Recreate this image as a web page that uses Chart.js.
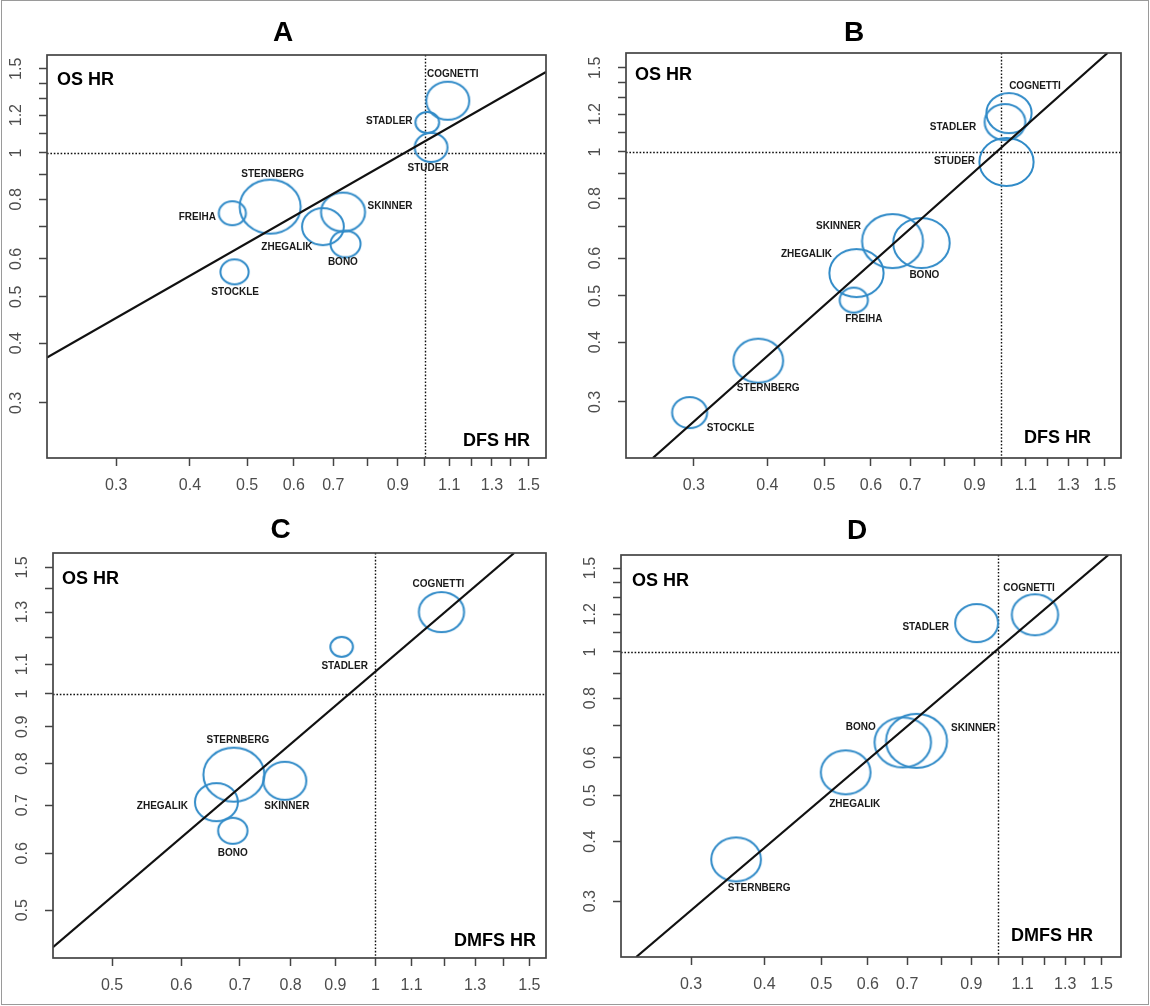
<!DOCTYPE html>
<html>
<head>
<meta charset="utf-8">
<title>OS HR vs surrogate HR</title>
<script src="https://cdn.jsdelivr.net/npm/chart.js@4.4.1/dist/chart.umd.min.js"></script>
<style>
  html, body { margin: 0; padding: 0; background: #fff; }
  #fig { position: relative; width: 1150px; height: 1006px; overflow: hidden; }
  #fig canvas { position: absolute; }
  #frame { position: absolute; left: 1px; top: 0; width: 1148px; height: 1005px;
           border: 1px solid #9a9a9a; box-sizing: border-box; pointer-events: none; }
</style>
</head>
<body>
<div id="fig">
  <canvas id="panelA" width="575" height="503" style="left:0;top:0"></canvas>
  <canvas id="panelB" width="575" height="503" style="left:575px;top:0"></canvas>
  <canvas id="panelC" width="575" height="503" style="left:0;top:503px"></canvas>
  <canvas id="panelD" width="575" height="503" style="left:575px;top:503px"></canvas>
  <div id="frame"></div>
</div>
<script>
/* global Chart */

// --- data -----------------------------------------------------------------

// A: DFS HR vs OS HR
const studiesA = ["COGNETTI", "STADLER", "STUDER", "STERNBERG", "FREIHA", "SKINNER", "ZHEGALIK", "BONO", "STOCKLE"];
const dfsHrA = [1.094, 1.010, 1.025, 0.547, 0.472, 0.727, 0.672, 0.734, 0.476];
const osHrA = [1.286, 1.158, 1.027, 0.772, 0.748, 0.752, 0.701, 0.645, 0.564];
const weightA = [19, 10.5, 14.5, 27, 12, 19.5, 18.5, 13.3, 12.5];
const fitDfsA = [0.229, 1.605];
const fitOsA = [0.373, 1.477];

// B: DFS HR vs OS HR
const studiesB = ["COGNETTI", "STADLER", "STUDER", "SKINNER", "BONO", "ZHEGALIK", "FREIHA", "STERNBERG", "STOCKLE"];
const dfsHrB = [1.03, 1.014, 1.02, 0.653, 0.731, 0.567, 0.561, 0.386, 0.295];
const osHrB = [1.206, 1.155, 0.953, 0.651, 0.645, 0.558, 0.49, 0.366, 0.285];
const weightB = [20, 18, 24, 27, 25, 24, 12.5, 22, 15.5];
const fitDfsB = [0.2555, 1.515];
const fitOsB = [0.229, 1.611];

// C: DMFS HR vs OS HR
const studiesC = ["COGNETTI", "STADLER", "STERNBERG", "SKINNER", "ZHEGALIK", "BONO"];
const dmfsHrC = [1.19, 0.915, 0.689, 0.788, 0.658, 0.687];
const osHrC = [1.30, 1.163, 0.772, 0.757, 0.707, 0.645];
const weightC = [20, 10, 27, 19, 19, 13];
const fitDmfsC = [0.428, 1.441];
const fitOsC = [0.444, 1.571];

// D: DMFS HR vs OS HR
const studiesD = ["COGNETTI", "STADLER", "BONO", "SKINNER", "ZHEGALIK", "STERNBERG"];
const dmfsHrD = [1.155, 0.919, 0.688, 0.726, 0.55, 0.358];
const osHrD = [1.197, 1.15, 0.646, 0.651, 0.559, 0.367];
const weightD = [20.5, 19, 25, 27, 22, 22];
const fitDmfsD = [0.242, 1.54];
const fitOsD = [0.229, 1.598];

// axis ticks and the ones that carry a label
const ticksWide = [0.3, 0.4, 0.5, 0.6, 0.7, 0.8, 0.9, 1, 1.1, 1.2, 1.3, 1.4, 1.5];
const xLabelsWide = [0.3, 0.4, 0.5, 0.6, 0.7, 0.9, 1.1, 1.3, 1.5];
const yLabelsWide = [0.3, 0.4, 0.5, 0.6, 0.8, 1, 1.2, 1.5];
const ticksNarrow = [0.5, 0.6, 0.7, 0.8, 0.9, 1, 1.1, 1.2, 1.3, 1.4, 1.5];
const labelsNarrow = [0.5, 0.6, 0.7, 0.8, 0.9, 1, 1.1, 1.3, 1.5];
const refHr = 1;

// --- layout / style -------------------------------------------------------

const FONT = "'Liberation Sans', Arial, Helvetica, sans-serif";
const BUBBLE = "#318bc8";
const AXIS = "#444";
const STRETCH = 1.13; // the printed circles are a bit wider than tall
const W = 575, H = 503;

const panels = [
  {
    id: "panelA", title: "A", titleAt: [283, 33], xName: "DFS HR",
    names: studiesA, xs: dfsHrA, ys: osHrA, sizes: weightA, fitX: fitDfsA, fitY: fitOsA,
    box: { left: 47, top: 55, right: 561, bottom: 458 },
    xRange: [0.229, 1.605], yRange: [0.230, 1.603],
    ticks: ticksWide, xLabels: xLabelsWide, yLabels: yLabelsWide,
    yNameAt: [10, 25], xNameAt: [-16, -17],
    nudge: [[5, -26], [-38, -1.5], [-3, 21], [2.5, -32], [-35, 4], [47, -5.5], [-36, 20.6], [-2.6, 18.7], [0.6, 20.7]]
  },
  {
    id: "panelB", title: "B", titleAt: [279, 33], xName: "DFS HR",
    names: studiesB, xs: dfsHrB, ys: osHrB, sizes: weightB, fitX: fitDfsB, fitY: fitOsB,
    box: { left: 51, top: 53, right: 564, bottom: 458 },
    xRange: [0.230, 1.597], yRange: [0.229, 1.611],
    ticks: ticksWide, xLabels: xLabelsWide, yLabels: yLabelsWide,
    yNameAt: [9, 22], xNameAt: [-30, -20],
    nudge: [[26, -27], [-52, 5], [-52, -1], [-54, -15], [3, 32], [-50, -19], [10, 19], [10, 28], [41, 16]]
  },
  {
    id: "panelC", title: "C", titleAt: [280.5, 27], xName: "DMFS HR",
    names: studiesC, xs: dmfsHrC, ys: osHrC, sizes: weightC, fitX: fitDmfsC, fitY: fitOsC,
    box: { left: 53, top: 50, right: 562, bottom: 455 },
    xRange: [0.428, 1.567], yRange: [0.429, 1.571],
    ticks: ticksNarrow, xLabels: labelsNarrow, yLabels: labelsNarrow,
    yNameAt: [9, 26], xNameAt: [-10, -17],
    nudge: [[-3, -28], [3, 19], [4, -34], [2, 25], [-54, 4], [0, 22]]
  },
  {
    id: "panelD", title: "D", titleAt: [282, 28], xName: "DMFS HR",
    names: studiesD, xs: dmfsHrD, ys: osHrD, sizes: weightD, fitX: fitDmfsD, fitY: fitOsD,
    box: { left: 46, top: 52, right: 563, bottom: 454 },
    xRange: [0.228, 1.618], yRange: [0.229, 1.598],
    ticks: ticksWide, xLabels: xLabelsWide, yLabels: yLabelsWide,
    yNameAt: [11, 26], xNameAt: [-28, -21],
    nudge: [[-6, -27], [-51, 4], [-42, -15], [57, -13], [9, 32], [23, 29]]
  }
];

// hollow ellipse used as point style for each bubble
const markCache = new Map();
function ellipseMark(r) {
  if (markCache.has(r)) return markCache.get(r);
  const lw = 2;
  const c = document.createElement("canvas");
  c.width = Math.ceil(r * STRETCH * 2 + lw * 2 + 2);
  c.height = Math.ceil(r * 2 + lw * 2 + 2);
  const g = c.getContext("2d");
  g.strokeStyle = BUBBLE;
  g.lineWidth = lw;
  g.beginPath();
  g.ellipse(c.width / 2, c.height / 2, r * STRETCH, r, 0, 0, Math.PI * 2);
  g.stroke();
  markCache.set(r, c);
  return c;
}

const fmt = (v) => String(v);

function decor(p) {
  return {
    id: "decor",
    beforeDatasetsDraw(chart) {
      const { ctx, chartArea: a, scales: { x, y } } = chart;
      const px = Math.round(x.getPixelForValue(refHr)) + 0.5;
      const py = Math.round(y.getPixelForValue(refHr)) + 0.5;
      ctx.save();
      ctx.strokeStyle = "#111";
      ctx.lineWidth = 1.4;
      ctx.setLineDash([1.6, 1.8]);
      ctx.beginPath();
      ctx.moveTo(px, a.top);
      ctx.lineTo(px, a.bottom);
      ctx.moveTo(a.left, py);
      ctx.lineTo(a.right, py);
      ctx.stroke();
      ctx.restore();
    },
    afterDatasetsDraw(chart) {
      const { ctx } = chart;
      const meta = chart.getDatasetMeta(1);
      ctx.save();
      ctx.font = `bold 10px ${FONT}`;
      ctx.fillStyle = "#1a1a1a";
      ctx.textAlign = "center";
      ctx.textBaseline = "middle";
      meta.data.forEach((el, i) => {
        const [dx, dy] = p.nudge[i];
        ctx.fillText(p.names[i], el.x + dx, el.y + dy);
      });
      ctx.restore();
    },
    afterDraw(chart) {
      const { ctx, chartArea: a, scales: { x, y } } = chart;
      ctx.save();
      ctx.strokeStyle = AXIS;
      ctx.lineWidth = 1.7;
      ctx.strokeRect(a.left, a.top, a.right - a.left, a.bottom - a.top);

      ctx.fillStyle = "#4d4d4d";
      ctx.font = `16px ${FONT}`;
      ctx.textAlign = "center";
      ctx.textBaseline = "middle";
      for (const t of x.ticks) {
        if (!p.xLabels.includes(t.value)) continue;
        ctx.fillText(fmt(t.value), x.getPixelForValue(t.value), a.bottom + 28);
      }
      for (const t of y.ticks) {
        if (!p.yLabels.includes(t.value)) continue;
        ctx.save();
        ctx.translate(a.left - 30, y.getPixelForValue(t.value));
        ctx.rotate(-Math.PI / 2);
        ctx.fillText(fmt(t.value), 0, 0);
        ctx.restore();
      }

      ctx.fillStyle = "#000";
      ctx.font = `bold 28px ${FONT}`;
      ctx.fillText(p.title, p.titleAt[0], p.titleAt[1]);

      ctx.font = `bold 18px ${FONT}`;
      ctx.textAlign = "left";
      ctx.fillText("OS HR", a.left + p.yNameAt[0], a.top + p.yNameAt[1]);
      ctx.textAlign = "right";
      ctx.fillText(p.xName, a.right + p.xNameAt[0], a.bottom + p.xNameAt[1]);
      ctx.restore();
    }
  };
}

function logAxis(range, ticks, afterFit) {
  return {
    type: "logarithmic",
    min: range[0],
    max: range[1],
    afterBuildTicks: (s) => { s.ticks = ticks.map((v) => ({ value: v })); },
    afterFit,
    ticks: { display: false },
    grid: {
      display: true,
      drawOnChartArea: false,
      drawTicks: true,
      tickLength: 8,
      tickWidth: 1.5,
      tickColor: AXIS
    },
    border: { display: false }
  };
}

for (const p of panels) {
  // eslint-disable-next-line no-new
  new Chart(document.getElementById(p.id), {
    type: "bubble",
    data: {
      datasets: [
        {
          type: "line",
          data: p.fitX.map((v, i) => ({ x: v, y: p.fitY[i] })),
          borderColor: "#111",
          borderWidth: 2.2,
          pointRadius: 0,
          tension: 0,
          fill: false
        },
        {
          type: "bubble",
          data: p.xs.map((v, i) => ({ x: v, y: p.ys[i], r: p.sizes[i] })),
          pointStyle: p.sizes.map(ellipseMark),
          borderColor: BUBBLE,
          backgroundColor: "rgba(0,0,0,0)",
          borderWidth: 2
        }
      ]
    },
    options: {
      responsive: false,
      animation: false,
      devicePixelRatio: 1,
      events: [],
      layout: { padding: { top: p.box.top, right: W - p.box.right, left: 0, bottom: 0 } },
      plugins: { legend: { display: false }, tooltip: { enabled: false }, title: { display: false } },
      scales: {
        x: logAxis(p.xRange, p.ticks, (s) => { s.height = H - p.box.bottom; }),
        y: logAxis(p.yRange, p.ticks, (s) => { s.width = p.box.left; })
      }
    },
    plugins: [decor(p)]
  });
}
</script>
</body>
</html>
